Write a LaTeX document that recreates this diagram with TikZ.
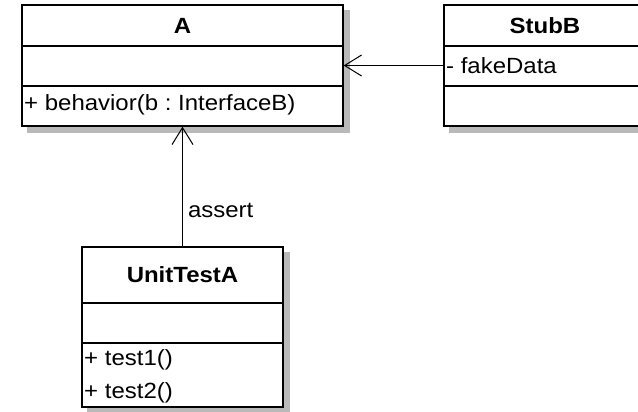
\documentclass[tikz,border=0pt]{standalone}
\usepackage{fontspec}
\setmainfont[FakeStretch=1.09]{Liberation Sans}
\usetikzlibrary{arrows.meta,backgrounds}
\frenchspacing

\definecolor{shadowgray}{RGB}{185,185,185}

\tikzset{
  classbox/.style={draw=black, line width=1.3pt, fill=white, inner sep=0pt},
  boxshadow/.style={fill=shadowgray},
  sepline/.style={draw=black, line width=1.3pt},
  classtitle/.style={font=\fontsize{22}{26}\selectfont\bfseries, inner sep=0pt},
  member/.style={font=\fontsize{22}{26}\selectfont, inner sep=0pt, anchor=west},
  assoc/.style={draw=black, line width=1.2pt,
    -{Straight Barb[length=17pt, width=21pt, line width=1pt]}},
}

\begin{document}
\begin{tikzpicture}[x=1pt, y=-1pt]
  \useasboundingbox (0,0) rectangle (638,412);
  \clip (0,0) rectangle (638,412);

  % class A
  \node[classbox, minimum width=321pt, minimum height=121pt] (A) at (182.5,65.5) {};
  \draw[sepline] (A.west |- 0,46) -- (A.east |- 0,46);
  \draw[sepline] (A.west |- 0,86) -- (A.east |- 0,86);
  \node[classtitle] (Atitle) at (182.5,26) {A};
  \node[member] (Aop) at (24,105) {+ behavior(b : InterfaceB)};

  % class StubB
  \node[classbox, minimum width=202pt, minimum height=121pt] (StubB) at (545,65.5) {};
  \draw[sepline] (StubB.west |- 0,46) -- (StubB.east |- 0,46);
  \draw[sepline] (StubB.west |- 0,86) -- (StubB.east |- 0,86);
  \node[classtitle] (Btitle) at (545,26) {StubB};
  \node[member] (Battr) at (446,66) {- fakeData};

  % class UnitTestA
  \node[classbox, minimum width=201pt, minimum height=160pt] (UnitTestA) at (182.5,327) {};
  \draw[sepline] (UnitTestA.west |- 0,303) -- (UnitTestA.east |- 0,303);
  \draw[sepline] (UnitTestA.west |- 0,343) -- (UnitTestA.east |- 0,343);
  \node[classtitle] (Ttitle) at (182.5,275) {UnitTestA};
  \node[member] (Top1) at (84,360) {+ test1()};
  \node[member] (Top2) at (84,393) {+ test2()};

  % associations
  \draw[assoc] (StubB.west) -- (A.east);
  \draw[assoc] (UnitTestA.north) -- (A.south)
    node[member, pos=0.3, xshift=5pt] (assertlbl) {assert};

  % white page and drop shadows behind the boxes
  \begin{scope}[on background layer]
    \fill[white] (0,0) rectangle (638,412);
    \foreach \b in {A,StubB,UnitTestA} {
      \fill[boxshadow] ([xshift=6pt,yshift=-6pt]\b.south west)
        rectangle ([xshift=6pt,yshift=-6pt]\b.north east);
    }
  \end{scope}
\end{tikzpicture}
\end{document}
